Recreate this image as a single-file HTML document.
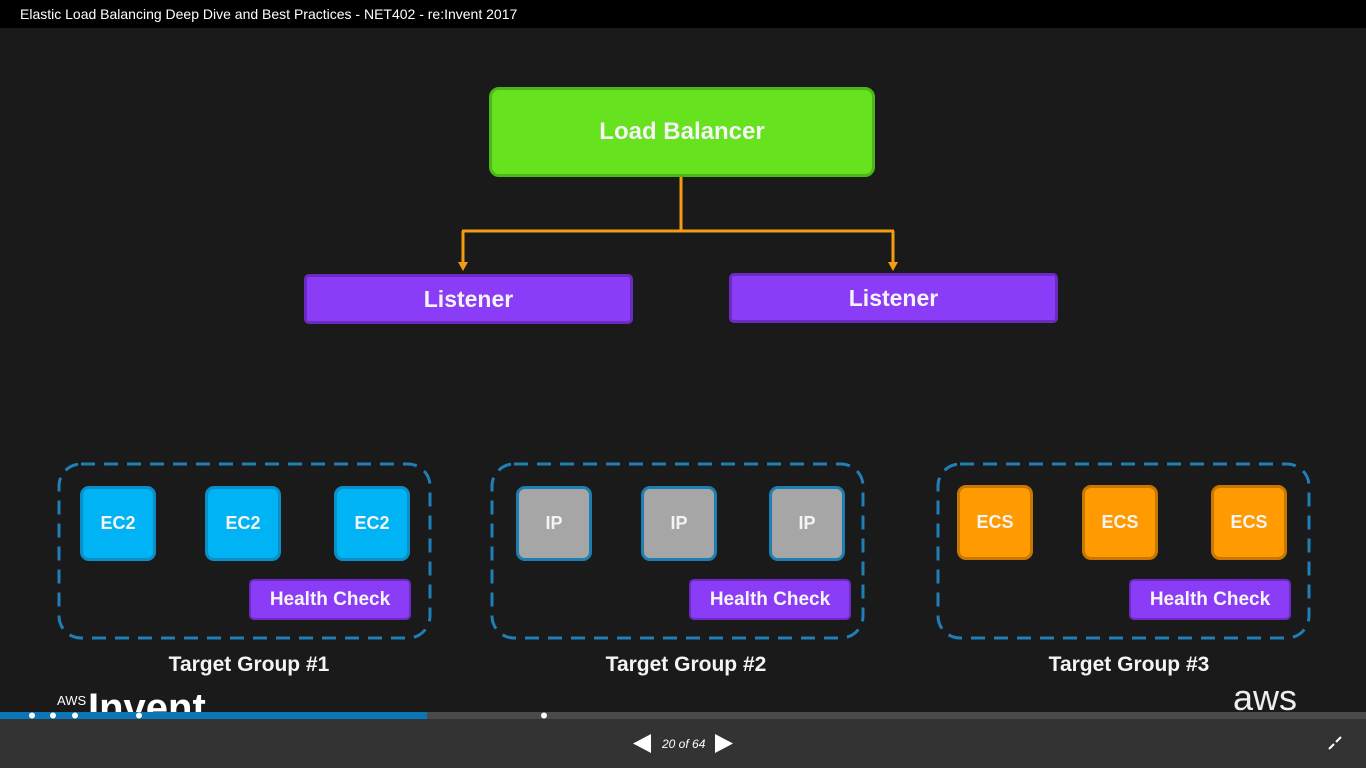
<!DOCTYPE html>
<html><head><style>
body{margin:0;width:1366px;height:768px;background:#1a1a1a;position:relative;overflow:hidden;font-family:"Liberation Sans",sans-serif}
.a{position:absolute;box-sizing:border-box;display:flex;align-items:center;justify-content:center;color:#f4f4f4;font-weight:bold}
.lb{background:#66e21e;border:3px solid #4cb818;border-radius:10px;font-size:24px}
.li{background:#8b3cf7;border:3px solid #6b2bc2;border-radius:5px;font-size:23px}
.hc{background:#8b3cf7;border:2px solid #6b2bc2;border-radius:5px;font-size:19px}
.sq{width:76px;height:75px;border-radius:9px;font-size:18px;border:3px solid #0c8fc6}
.ec{background:#00b3f4}
.ip{background:#a6a6a6;border-color:#1c7fb2}
.cs{background:#ff9a00;border-color:#c87800}
.tg{font-size:21px;width:372px}
</style></head><body>
<div style="position:absolute;left:0;top:0;width:1366px;height:28px;background:#000;color:#fff;font-size:14px;line-height:28px;padding-left:20px;box-sizing:border-box">Elastic Load Balancing Deep Dive and Best Practices - NET402 - re:Invent 2017</div>
<svg style="position:absolute;left:0;top:0" width="1366" height="768">
<g stroke="#f39c12" stroke-width="3" fill="none"><path d="M681 176V231M462 231H894M463 231V263M893 231V263"/></g>
<path d="M458 262h10l-5 9z M888 262h10l-5 9z" fill="#f39c12"/>
<g stroke="#1f7fb6" stroke-width="3" fill="none" stroke-dasharray="14 9">
<rect x="59" y="464" width="371" height="174" rx="22"/>
<rect x="492" y="464" width="371" height="174" rx="22"/>
<rect x="938" y="464" width="371" height="174" rx="22"/>
</g>
</svg>
<div class="a lb" style="left:489px;top:87px;width:386px;height:90px">Load Balancer</div>
<div class="a li" style="left:304px;top:274px;width:329px;height:50px">Listener</div>
<div class="a li" style="left:729px;top:273px;width:329px;height:50px">Listener</div>
<div class="a sq ec" style="left:80px;top:486px">EC2</div>
<div class="a sq ec" style="left:205px;top:486px">EC2</div>
<div class="a sq ec" style="left:334px;top:486px">EC2</div>
<div class="a sq ip" style="left:516px;top:486px">IP</div>
<div class="a sq ip" style="left:641px;top:486px">IP</div>
<div class="a sq ip" style="left:769px;top:486px">IP</div>
<div class="a sq cs" style="left:957px;top:485px">ECS</div>
<div class="a sq cs" style="left:1082px;top:485px">ECS</div>
<div class="a sq cs" style="left:1211px;top:485px">ECS</div>
<div class="a hc" style="left:249px;top:579px;width:162px;height:41px">Health Check</div>
<div class="a hc" style="left:689px;top:579px;width:162px;height:41px">Health Check</div>
<div class="a hc" style="left:1129px;top:579px;width:162px;height:41px">Health Check</div>
<div class="a tg" style="left:63px;top:650px;height:30px">Target Group #1</div>
<div class="a tg" style="left:500px;top:650px;height:30px">Target Group #2</div>
<div class="a tg" style="left:943px;top:650px;height:30px">Target Group #3</div>
<div style="position:absolute;left:57px;top:693px;color:#fff;font-size:13px">AWS</div>
<div style="position:absolute;left:88px;top:688px;color:#fff;font-size:40px;font-weight:bold;line-height:40px;height:24px;overflow:hidden">Invent</div>
<div style="position:absolute;left:1233px;top:680px;color:#eee;font-size:36px;line-height:36px;height:32px;overflow:hidden">aws</div>
<div style="position:absolute;left:0;top:712px;width:1366px;height:7px;background:#4a4a4a"></div>
<div style="position:absolute;left:0;top:712px;width:427px;height:7px;background:#0a76b8"></div>
<svg style="position:absolute;left:0;top:710px" width="1366" height="12" fill="#fff"><circle cx="32" cy="5.5" r="3"/><circle cx="53" cy="5.5" r="3"/><circle cx="75" cy="5.5" r="3"/><circle cx="139" cy="5.5" r="3"/><circle cx="544" cy="5.5" r="3"/></svg>
<div style="position:absolute;left:0;top:719px;width:1366px;height:49px;background:#333"></div>
<svg style="position:absolute;left:0;top:719px" width="1366" height="49" fill="#fff"><path d="M651 15v19l-18-9.5z M715 15v19l18-9.5z"/><path d="M1329 30l5-5M1336 23l5-5" stroke="#fff" stroke-width="2"/></svg>
<div style="position:absolute;left:662px;top:737px;color:#fff;font-size:12px;font-style:italic">20 of 64</div>
</body></html>
